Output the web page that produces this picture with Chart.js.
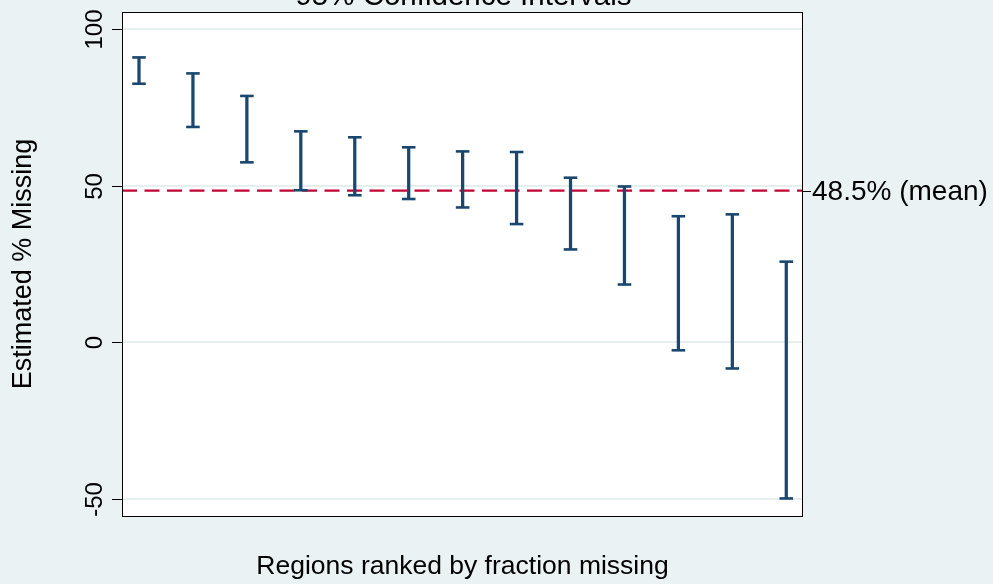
<!DOCTYPE html>
<html>
<head>
<meta charset="utf-8">
<script src="https://cdn.jsdelivr.net/npm/chart.js@4.4.1/dist/chart.umd.min.js"></script>
<style>
  html, body { margin: 0; padding: 0; background: #eaf2f3; }
  #wrap { width: 993px; height: 584px; }
</style>
</head>
<body>
<div id="wrap"><canvas id="ci"></canvas></div>
<script>
// rank of each region (sorted by fraction missing)
const ranks = [1, 2, 3, 4, 5, 6, 7, 8, 9, 10, 11, 12, 13];
// 95% CI bounds
const upper = [91.0, 85.9, 78.7, 67.4, 65.5, 62.3, 61.0, 60.8, 52.6, 49.8, 40.3, 40.9, 25.8];
const lower = [82.6, 68.8, 57.5, 48.6, 47.0, 45.8, 43.1, 37.8, 29.7, 18.5, -2.5, -8.3, -49.8];
const meanMissing = 48.5;
const yTicks = [-50, 0, 50, 100];

const NAVY = '#1a476f';
const CRANBERRY = '#c10534';
const FONT = '"Liberation Sans", Arial, sans-serif';

// background, plot box, tick marks, labels and titles
const stataFrame = {
    id: 'stataFrame',
    beforeDraw(chart) {
        const { ctx, chartArea: a } = chart;
        ctx.save();
        ctx.fillStyle = '#eaf2f3';
        ctx.fillRect(0, 0, chart.width, chart.height);
        ctx.fillStyle = '#ffffff';
        ctx.fillRect(a.left, a.top, a.right - a.left, a.bottom - a.top);
        ctx.restore();
    },
    afterDraw(chart) {
        const { ctx, chartArea: a } = chart;
        const y = chart.scales.y;
        ctx.save();
        ctx.strokeStyle = '#000000';
        ctx.lineWidth = 1;
        ctx.strokeRect(a.left + 0.5, a.top + 0.5, a.right - a.left - 1, a.bottom - a.top);

        // left ticks, rotated labels
        ctx.fillStyle = '#000000';
        ctx.font = '24px ' + FONT;
        yTicks.forEach(v => {
            const py = Math.round(y.getPixelForValue(v)) + 0.5;
            ctx.beginPath();
            ctx.moveTo(a.left - 10, py);
            ctx.lineTo(a.left, py);
            ctx.stroke();
            ctx.save();
            ctx.translate(a.left - 20, py);
            ctx.rotate(-Math.PI / 2);
            ctx.textAlign = 'center';
            ctx.textBaseline = 'alphabetic';
            ctx.fillText(String(v), 0, 0);
            ctx.restore();
        });

        // right tick for the mean
        const my = Math.round(y.getPixelForValue(meanMissing)) + 0.5;
        ctx.beginPath();
        ctx.moveTo(a.right, my);
        ctx.lineTo(a.right + 8, my);
        ctx.stroke();
        ctx.font = '28px ' + FONT;
        ctx.textAlign = 'left';
        ctx.textBaseline = 'middle';
        ctx.fillText(meanMissing.toFixed(1) + '% (mean)', a.right + 9, my + 1);

        // axis titles
        const cx = (a.left + a.right) / 2;
        ctx.font = '26.5px ' + FONT;
        ctx.textAlign = 'center';
        ctx.fillText('Regions ranked by fraction missing', cx, 567);
        ctx.save();
        ctx.font = '27px ' + FONT;
        ctx.translate(24, (a.top + a.bottom) / 2);
        ctx.rotate(-Math.PI / 2);
        ctx.fillText('Estimated % Missing', 0, 0);
        ctx.restore();

        // title, clipped by the top edge
        ctx.font = '29.5px ' + FONT;
        ctx.textBaseline = 'alphabetic';
        ctx.fillText('95% Confidence Intervals', cx + 1, 4.5);
        ctx.restore();
    }
};

new Chart(document.getElementById('ci'), {
    type: 'bar',
    data: {
        datasets: [
            {
                type: 'line',
                label: 'mean',
                data: [{ x: 0.685, y: meanMissing }, { x: 13.31, y: meanMissing }],
                borderColor: CRANBERRY,
                borderWidth: 2.2,
                borderDash: [15, 7.5],
                pointRadius: 0,
                order: 3
            },
            {
                type: 'bar',
                label: 'CI',
                data: ranks.map((r, i) => ({ x: r, y: [lower[i], upper[i]] })),
                backgroundColor: NAVY,
                borderWidth: 0,
                barThickness: 2.6,
                grouped: false,
                order: 2
            },
            {
                type: 'scatter',
                label: 'upper',
                data: ranks.map((r, i) => ({ x: r, y: upper[i] })),
                pointStyle: 'line',
                pointRadius: 6.8,
                borderColor: NAVY,
                borderWidth: 2.6,
                order: 1
            },
            {
                type: 'scatter',
                label: 'lower',
                data: ranks.map((r, i) => ({ x: r, y: lower[i] })),
                pointStyle: 'line',
                pointRadius: 6.8,
                borderColor: NAVY,
                borderWidth: 2.6,
                order: 1
            }
        ]
    },
    options: {
        responsive: true,
        maintainAspectRatio: false,
        animation: false,
        layout: { padding: { left: 122, top: 12, right: 190, bottom: 68 } },
        scales: {
            x: {
                type: 'linear',
                min: 0.685,
                max: 13.31,
                offset: false,
                display: false
            },
            y: {
                type: 'linear',
                min: -55.4,
                max: 105.5,
                ticks: { display: false, stepSize: 50, includeBounds: false },
                grid: { color: '#e6eef0', lineWidth: 2, drawTicks: false },
                border: { display: false }
            }
        },
        plugins: {
            legend: { display: false },
            tooltip: { enabled: false }
        }
    },
    plugins: [stataFrame]
});
</script>
</body>
</html>
